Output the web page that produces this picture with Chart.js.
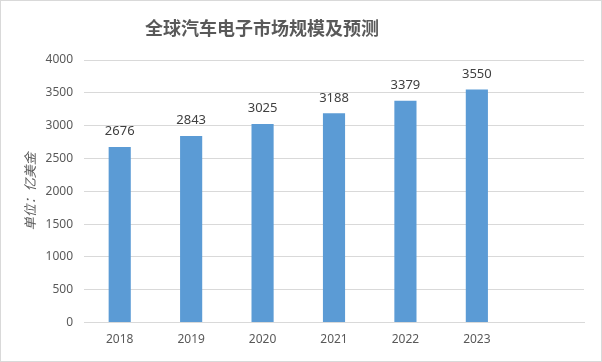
<!DOCTYPE html>
<html>
<head>
<meta charset="utf-8">
<script src="https://cdn.jsdelivr.net/npm/chart.js@4"></script>
<style>
  body { margin: 0; background: #fff; }
  #box { position: relative; width: 602px; height: 362px; box-sizing: border-box; border: 1px solid #d9d9d9; background: #fff; }
  #titolo { position: absolute; left: 0; width: 522px; top: 13px; text-align: center; margin: 0;
            font: bold 18px "Noto Sans CJK SC", sans-serif; color: #595959; letter-spacing: 0px; line-height: 26px; }
  canvas { display: block; }
</style>
</head>
<body>
<div id="box">
  <div id="titolo">全球汽车电子市场规模及预测</div>
  <canvas id="grafico" width="600" height="360"></canvas>
</div>
<script>
// dati
const anni = ["2018", "2019", "2020", "2021", "2022", "2023", ""];
const valori = [2676, 2843, 3025, 3188, 3379, 3550, null];
const yTicks = [0, 500, 1000, 1500, 2000, 2500, 3000, 3500, 4000];
const yTitolo = "单位：亿美金";

// etichette sopra le barre
const etichette = {
  id: "etichette",
  afterDatasetsDraw(chart) {
    const ctx = chart.ctx;
    const meta = chart.getDatasetMeta(0);
    ctx.save();
    ctx.font = '13px "Noto Sans", sans-serif';
    ctx.fillStyle = "#404040";
    ctx.textAlign = "center";
    ctx.textBaseline = "bottom";
    meta.data.forEach((bar, i) => {
      const v = chart.data.datasets[0].data[i];
      if (v == null) return;
      ctx.fillText(String(v), bar.x, bar.y - 9);
    });
    ctx.restore();
  }
};

new Chart(document.getElementById("grafico"), {
  type: "bar",
  data: {
    labels: anni,
    datasets: [{
      data: valori,
      backgroundColor: "#5b9bd5",
      categoryPercentage: 1,
      barPercentage: 0.31
    }]
  },
  options: {
    responsive: false,
    animation: false,
    layout: { padding: { top: 59, right: 17, bottom: 4, left: 0 } },
    plugins: { legend: { display: false }, tooltip: { enabled: false }, title: { display: false } },
    scales: {
      x: {
        grid: { display: false, drawTicks: false },
        border: { display: true, color: "#d9d9d9" },
        ticks: { color: "#595959", font: { size: 12, family: "Noto Sans" }, padding: 10 }
      },
      y: {
        min: 0,
        max: 4000,
        afterBuildTicks: (s) => { s.ticks = yTicks.map(v => ({ value: v })); },
        afterFit: (s) => { s.width = 83; },
        grid: { color: "#d9d9d9", drawTicks: false },
        border: { display: false },
        ticks: { color: "#595959", font: { size: 12, family: "Noto Sans" }, padding: 11,
                 callback: (v) => String(v) },
        title: {
          display: true,
          text: yTitolo,
          color: "#595959",
          font: { size: 13, style: "italic", family: "Noto Sans CJK SC" },
          padding: { top: 21, bottom: 0 }
        }
      }
    }
  },
  plugins: [etichette]
});
</script>
</body>
</html>
